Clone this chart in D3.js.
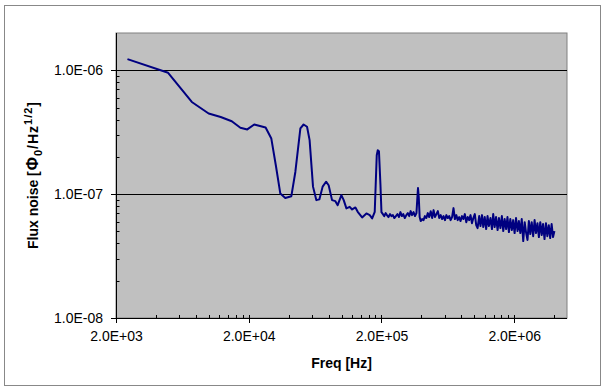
<!DOCTYPE html>
<html>
<head>
<meta charset="utf-8">
<script src="https://cdn.jsdelivr.net/npm/d3@7"></script>
<style>
  body { margin: 0; background: #fff; }
  svg { display: block; font-family: "Liberation Sans", Arial, sans-serif; }
</style>
</head>
<body>
<svg id="chart"></svg>
<script>
// spectrum, low frequency part (Hz, Phi0/sqrt(Hz))
const freqLow = [2440, 4940, 7450, 9980, 12300, 14900, 17300, 19500, 22000, 26800,
  29600, 32000, 34600, 37700, 41900, 44900, 49000, 51800, 55000, 57500,
  61000, 64600, 68100, 72100, 76500, 80000, 84900, 89900, 93600, 99800,
  103900, 108900, 115300, 120200, 127300, 132500, 143000, 154100, 163200, 170200,
  178000, 184300, 187600, 191500, 196600, 200000];
const noiseLow = [1.23e-6, 9.55e-7, 5.55e-7, 4.48e-7, 4.20e-7, 3.88e-7, 3.44e-7, 3.33e-7, 3.65e-7, 3.45e-7,
  2.81e-7, 1.71e-7, 1.01e-7, 9.32e-8, 9.63e-8, 1.51e-7, 3.39e-7, 3.65e-7, 3.50e-7, 2.73e-7,
  1.15e-7, 8.95e-8, 9.07e-8, 1.15e-7, 1.26e-7, 1.18e-7, 8.95e-8, 8.78e-8, 8.15e-8, 9.82e-8,
  8.95e-8, 7.67e-8, 7.90e-8, 7.52e-8, 7.81e-8, 7.20e-8, 6.49e-8, 6.99e-8, 6.77e-8, 6.37e-8,
  7.20e-8, 2.06e-7, 2.26e-7, 2.22e-7, 1.18e-7, 7.16e-8];

// high frequency part, noisy floor
const freqHigh = [205000, 210000, 215000, 220000, 226000, 232000, 238000, 244000, 250000, 257000,
  264000, 271000, 278000, 285000, 292000, 300000, 308000, 316000, 324000, 332000,
  340000, 349000, 358000, 367000, 372000, 377000, 382000, 388000, 395000, 405000,
  415000, 425000, 436000, 447000, 458000, 470000, 482000, 494000, 506000, 519000,
  532000, 545000, 559000, 573000, 587000, 602000, 617000, 632000, 648000, 664000,
  681000, 698000, 715000, 733000, 751000, 770000, 789000, 809000, 829000, 850000,
  871000, 893000, 915000, 938000, 961000, 985000, 1010000, 1035000, 1060000, 1090000,
  1115000, 1145000, 1170000, 1200000, 1230000, 1260000, 1290000, 1325000, 1360000, 1390000,
  1425000, 1460000, 1500000, 1535000, 1575000, 1615000, 1655000, 1695000, 1740000, 1780000,
  1825000, 1870000, 1920000, 1965000, 2015000, 2065000, 2120000, 2170000, 2225000, 2280000,
  2340000, 2400000, 2455000, 2520000, 2580000, 2645000, 2710000, 2780000, 2850000, 2920000,
  2995000, 3070000, 3145000, 3225000, 3300000, 3385000, 3470000, 3555000, 3645000, 3735000,
  3830000, 3925000, 4020000];
const noiseHigh = [6.90e-8, 6.65e-8, 7.03e-8, 6.77e-8, 6.53e-8, 6.90e-8, 6.65e-8, 6.77e-8, 6.41e-8, 6.65e-8,
  6.90e-8, 6.53e-8, 7.16e-8, 6.65e-8, 6.90e-8, 6.41e-8, 6.77e-8, 7.03e-8, 6.65e-8, 7.29e-8,
  6.77e-8, 7.16e-8, 6.65e-8, 7.03e-8, 8.94e-8, 1.12e-7, 9.46e-8, 6.53e-8, 6.06e-8, 6.29e-8,
  6.17e-8, 6.65e-8, 6.41e-8, 7.03e-8, 6.53e-8, 7.29e-8, 6.41e-8, 7.43e-8, 6.53e-8, 6.90e-8,
  7.29e-8, 6.41e-8, 6.77e-8, 6.29e-8, 6.65e-8, 6.17e-8, 6.77e-8, 6.41e-8, 6.65e-8, 6.17e-8,
  6.53e-8, 7.71e-8, 6.29e-8, 6.77e-8, 6.17e-8, 6.53e-8, 6.06e-8, 6.65e-8, 6.29e-8, 6.90e-8,
  5.94e-8, 6.53e-8, 6.17e-8, 6.77e-8, 5.83e-8, 6.41e-8, 6.90e-8, 5.62e-8, 5.32e-8, 6.65e-8,
  5.52e-8, 6.77e-8, 5.42e-8, 6.53e-8, 5.22e-8, 6.65e-8, 5.52e-8, 6.41e-8, 5.22e-8, 6.90e-8,
  5.42e-8, 6.53e-8, 5.13e-8, 6.41e-8, 5.32e-8, 6.65e-8, 5.03e-8, 6.29e-8, 5.22e-8, 6.53e-8,
  4.94e-8, 6.29e-8, 5.13e-8, 6.17e-8, 4.85e-8, 6.41e-8, 5.03e-8, 6.06e-8, 4.85e-8, 6.29e-8,
  4.18e-8, 5.94e-8, 4.94e-8, 4.26e-8, 6.06e-8, 4.76e-8, 5.94e-8, 4.58e-8, 6.17e-8, 4.85e-8,
  5.83e-8, 4.50e-8, 5.94e-8, 4.67e-8, 5.73e-8, 4.34e-8, 5.83e-8, 4.58e-8, 5.62e-8, 4.42e-8,
  5.73e-8, 4.50e-8, 5.03e-8];

// axes
const xMajor = [2e3, 2e4, 2e5, 2e6];
const xLabels = ["2.0E+03", "2.0E+04", "2.0E+05", "2.0E+06"];
const xMinor = [4e3, 6e3, 8e3, 1e4, 1.2e4, 1.4e4, 1.6e4, 1.8e4,
  4e4, 6e4, 8e4, 1e5, 1.2e5, 1.4e5, 1.6e5, 1.8e5,
  4e5, 6e5, 8e5, 1e6, 1.2e6, 1.4e6, 1.6e6, 1.8e6, 4e6];
const yMajor = [1e-8, 1e-7, 1e-6];
const yLabels = ["1.0E-08", "1.0E-07", "1.0E-06"];
const yMinor = [2e-8, 3e-8, 4e-8, 5e-8, 6e-8, 7e-8, 8e-8, 9e-8,
  2e-7, 3e-7, 4e-7, 5e-7, 6e-7, 7e-7, 8e-7, 9e-7];

const width = 604;
const height = 389;
const margin = { top: 33, right: 37, bottom: 71, left: 116 };
const innerW = width - margin.left - margin.right;
const innerH = height - margin.top - margin.bottom;

const svg = d3.select("#chart").attr("width", width).attr("height", height);

// chart area border
svg.append("rect")
  .attr("x", 4.5).attr("y", 5.5)
  .attr("width", 596).attr("height", 380)
  .attr("fill", "#fff")
  .attr("stroke", "#888");

const x = d3.scaleLog().domain([2e3, 5e6]).range([0, innerW]);
const y = d3.scaleLog().domain([1e-8, 2e-6]).range([innerH, 0]);

const g = svg.append("g")
  .attr("transform", `translate(${margin.left},${margin.top})`);

g.append("rect")
  .attr("width", innerW).attr("height", innerH)
  .attr("fill", "#c0c0c0")
  .attr("stroke", "#808080");

// gridlines
g.selectAll(".grid")
  .data(yMajor.slice(1))
  .enter()
  .append("line")
  .attr("x1", 0).attr("x2", innerW)
  .attr("y1", (d) => Math.round(y(d)) + 0.5)
  .attr("y2", (d) => Math.round(y(d)) + 0.5)
  .attr("stroke", "#000");

// axis lines
g.append("line").attr("x1", 0.5).attr("x2", 0.5).attr("y1", 0).attr("y2", innerH).attr("stroke", "#000");
g.append("line").attr("x1", 0).attr("x2", innerW).attr("y1", innerH + 0.5).attr("y2", innerH + 0.5).attr("stroke", "#000");

// ticks
g.selectAll(".ymaj").data(yMajor).enter().append("line")
  .attr("x1", -5).attr("x2", 3)
  .attr("y1", (d) => Math.round(y(d)) + 0.5).attr("y2", (d) => Math.round(y(d)) + 0.5)
  .attr("stroke", "#000");
g.selectAll(".ymin").data(yMinor).enter().append("line")
  .attr("x1", 0).attr("x2", 3.5)
  .attr("y1", (d) => Math.round(y(d)) + 0.5).attr("y2", (d) => Math.round(y(d)) + 0.5)
  .attr("stroke", "#000");
g.selectAll(".xmaj").data(xMajor).enter().append("line")
  .attr("x1", (d) => Math.round(x(d)) + 0.5).attr("x2", (d) => Math.round(x(d)) + 0.5)
  .attr("y1", innerH - 3).attr("y2", innerH + 5)
  .attr("stroke", "#000");
g.selectAll(".xmin").data(xMinor).enter().append("line")
  .attr("x1", (d) => Math.round(x(d)) + 0.5).attr("x2", (d) => Math.round(x(d)) + 0.5)
  .attr("y1", innerH - 3).attr("y2", innerH)
  .attr("stroke", "#000");

// tick labels
const xAxis = g.append("g")
  .attr("transform", `translate(0,${innerH})`)
  .call(d3.axisBottom(x).tickValues(xMajor).tickSize(0).tickPadding(13)
    .tickFormat((d, i) => xLabels[i]));
const yAxis = g.append("g")
  .call(d3.axisLeft(y).tickValues(yMajor).tickSize(0).tickPadding(13)
    .tickFormat((d, i) => yLabels[i]));
[xAxis, yAxis].forEach((a) => {
  a.select(".domain").remove();
  a.selectAll("text")
    .attr("fill", "#000")
    .style("font-family", "'Liberation Sans', Arial, sans-serif")
    .style("font-size", "14px");
});

// data line
const pts = freqLow.map((f, i) => [f, noiseLow[i]])
  .concat(freqHigh.map((f, i) => [f, noiseHigh[i]]));
const line = d3.line().x((d) => x(d[0])).y((d) => y(d[1]));
g.append("path")
  .datum(pts)
  .attr("d", line)
  .attr("fill", "none")
  .attr("stroke", "#000080")
  .attr("stroke-width", 2)
  .attr("stroke-linejoin", "round");

// axis titles
svg.append("text")
  .attr("x", margin.left + innerW / 2)
  .attr("y", 368)
  .attr("text-anchor", "middle")
  .style("font-size", "14px")
  .style("font-weight", "bold")
  .text("Freq [Hz]");

const yt = svg.append("text")
  .attr("transform", `translate(38,${margin.top + innerH / 2}) rotate(-90)`)
  .attr("text-anchor", "middle")
  .style("font-size", "14px")
  .style("font-weight", "bold");
yt.append("tspan").text("Flux noise ");
yt.append("tspan").style("letter-spacing", "1px").text("[");
yt.append("tspan").style("font-size", "16px").style("letter-spacing", "1px").text("Φ");
yt.append("tspan").attr("dy", 4).style("font-size", "11px").style("letter-spacing", "1px").text("0");
yt.append("tspan").attr("dy", -4).style("letter-spacing", "1px").text("/Hz");
yt.append("tspan").attr("dy", -6).style("font-size", "11px").style("letter-spacing", "1px").text("1/2");
yt.append("tspan").attr("dy", 6).text("]");
</script>
</body>
</html>
